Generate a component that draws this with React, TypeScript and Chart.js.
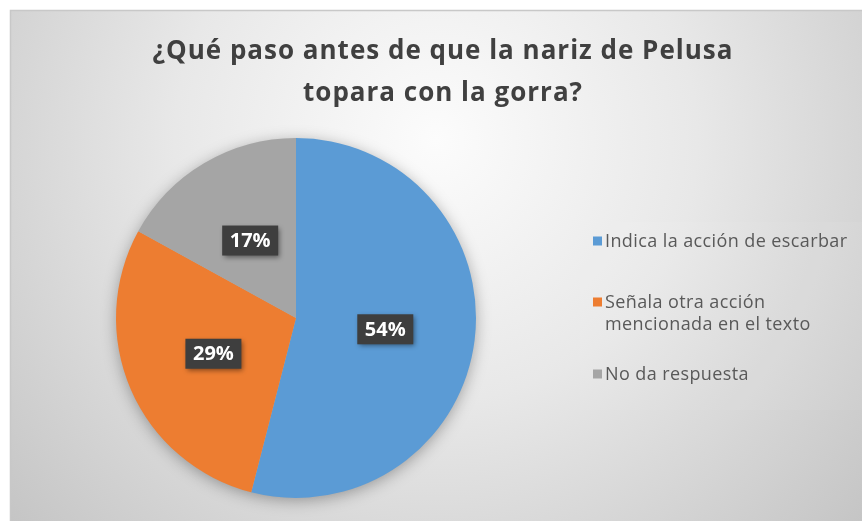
import React, { useEffect, useRef } from 'react';
import { Chart, registerables } from 'chart.js';

Chart.register(...registerables);

const titleLines = ['¿Qué paso antes de que la nariz de Pelusa', 'topara con la gorra?'];
const categories = ['Indica la acción de escarbar', 'Señala otra acción\nmencionada en el texto', 'No da respuesta'];
const values = [54, 29, 17];
const colors = ['#5B9BD5', '#ED7D31', '#A5A5A5'];

const W = 862;
const H = 521;

const backdropPlugin = {
  id: 'backdrop',
  beforeDraw(chart: any) {
    const ctx = chart.ctx as CanvasRenderingContext2D;
    ctx.save();
    ctx.fillStyle = '#ffffff';
    ctx.fillRect(0, 0, W, H);
    const g = ctx.createRadialGradient(436, 140, 0, 436, 140, 580);
    g.addColorStop(0, '#fcfcfc');
    g.addColorStop(0.45, '#e8e8e8');
    g.addColorStop(1, '#c4c4c4');
    ctx.fillStyle = g;
    ctx.fillRect(10, 10, W - 10, H - 10);
    ctx.fillStyle = 'rgba(255,255,255,0.05)';
    ctx.fillRect(580, 222, 282, 188);
    ctx.strokeStyle = '#c8c8c8';
    ctx.lineWidth = 1.5;
    ctx.beginPath();
    ctx.moveTo(10.5, H);
    ctx.lineTo(10.5, 10.5);
    ctx.lineTo(W, 10.5);
    ctx.stroke();
    // title
    ctx.fillStyle = '#404040';
    ctx.font = 'bold 26px "Open Sans"';
    (ctx as any).letterSpacing = '1px';
    ctx.textAlign = 'center';
    ctx.textBaseline = 'middle';
    titleLines.forEach((t, i) => ctx.fillText(t, 443, 52 + i * 42));
    ctx.restore();
  },
  beforeDatasetsDraw(chart: any) {
    const ctx = chart.ctx as CanvasRenderingContext2D;
    const arc = chart.getDatasetMeta(0).data[0];
    if (!arc) return;
    ctx.save();
    ctx.shadowColor = 'rgba(0,0,0,0.35)';
    ctx.shadowBlur = 16;
    ctx.shadowOffsetY = 3;
    ctx.fillStyle = '#b0b0b0';
    ctx.beginPath();
    ctx.arc(arc.x, arc.y, arc.outerRadius - 1, 0, Math.PI * 2);
    ctx.fill();
    ctx.restore();
  },
  afterDatasetsDraw(chart: any) {
    const ctx = chart.ctx as CanvasRenderingContext2D;
    const data = chart.data.datasets[0].data as number[];
    const total = data.reduce((a, b) => a + b, 0);
    chart.getDatasetMeta(0).data.forEach((arc: any, i: number) => {
      const p = arc.getCenterPoint();
      const txt = Math.round((data[i] / total) * 100) + '%';
      const bw = 56;
      const bh = 30;
      ctx.save();
      ctx.shadowColor = 'rgba(0,0,0,0.45)';
      ctx.shadowBlur = 5;
      ctx.shadowOffsetX = 2;
      ctx.shadowOffsetY = 2;
      ctx.fillStyle = '#3e3e3e';
      ctx.fillRect(p.x - bw / 2, p.y - bh / 2, bw, bh);
      ctx.restore();
      ctx.save();
      ctx.fillStyle = '#ffffff';
      ctx.font = 'bold 20px "Open Sans"';
      ctx.textAlign = 'center';
      ctx.textBaseline = 'middle';
      ctx.fillText(txt, p.x, p.y + 1);
      ctx.restore();
    });
  },
  afterDraw(chart: any) {
    const ctx = chart.ctx as CanvasRenderingContext2D;
    const labels = chart.data.labels as string[];
    const bg = chart.data.datasets[0].backgroundColor as string[];
    const startY = [241, 302, 374];
    ctx.save();
    ctx.font = '18px "Open Sans"';
    (ctx as any).letterSpacing = '0.4px';
    ctx.textBaseline = 'middle';
    ctx.textAlign = 'left';
    labels.forEach((lab, i) => {
      const lines = String(lab).split('\n');
      ctx.fillStyle = bg[i];
      ctx.fillRect(593, startY[i] - 4.5, 9, 9);
      ctx.fillStyle = '#595959';
      lines.forEach((ln, j) => ctx.fillText(ln, 605, startY[i] + 1 + j * 22));
    });
    ctx.restore();
  },
};

export default function App() {
  const ref = useRef<HTMLCanvasElement | null>(null);
  useEffect(() => {
    if (!ref.current) return;
    const chart = new Chart(ref.current, {
      type: 'pie',
      data: {
        labels: categories,
        datasets: [
          {
            data: values,
            backgroundColor: colors,
            borderWidth: 0,
          },
        ],
      },
      options: {
        responsive: false,
        animation: false,
        devicePixelRatio: 1,
        events: [],
        layout: { padding: { left: 116, right: W - 476, top: 138, bottom: H - 498 } },
        plugins: {
          legend: { display: false },
          title: { display: false },
          tooltip: { enabled: false },
        },
      },
      plugins: [backdropPlugin],
    });
    return () => chart.destroy();
  }, []);
  return (
    <div style={{ position: 'absolute', left: 0, top: 0, width: W, height: H }}>
      <canvas ref={ref} width={W} height={H} style={{ width: W, height: H, display: 'block' }} />
    </div>
  );
}
